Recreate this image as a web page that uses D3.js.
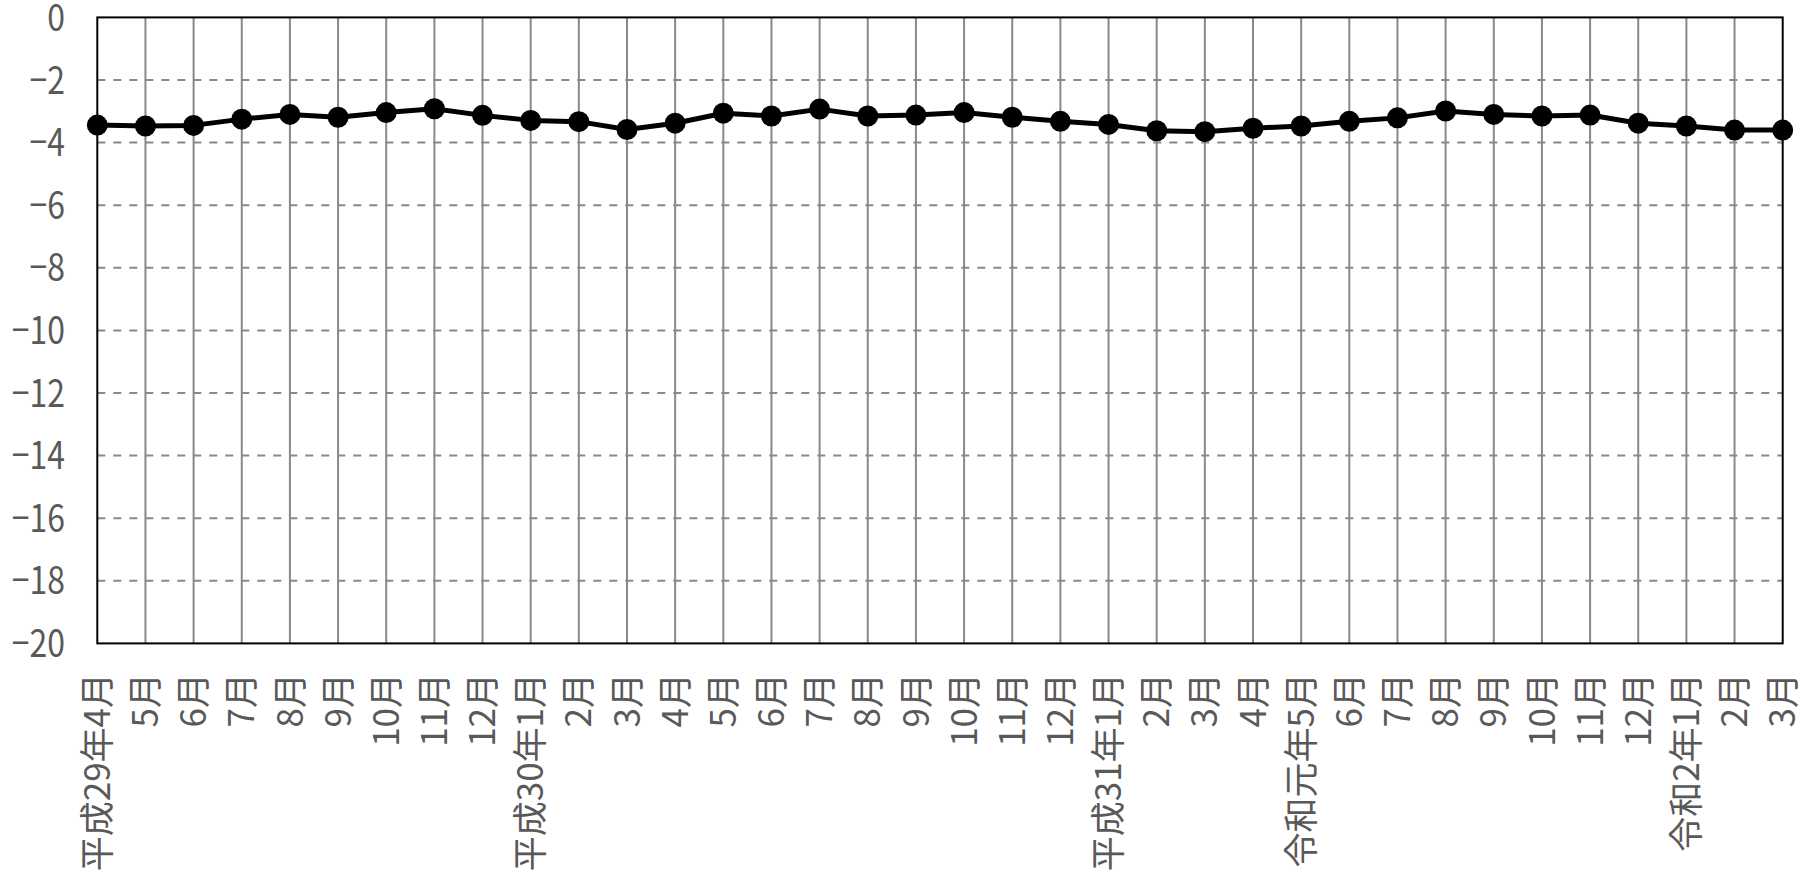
<!DOCTYPE html>
<html>
<head>
<meta charset="utf-8">
<script src="https://cdn.jsdelivr.net/npm/d3@7"></script>
<style>
  body { margin: 0; background: #fff; }
  text { font-family: "Noto Sans CJK JP", "Noto Sans", sans-serif; fill: #595959; }
</style>
</head>
<body>
<div id="chart"></div>
<script>
// month labels along the x axis
var months = [
  "平成29年4月", "5月", "6月", "7月", "8月", "9月", "10月", "11月", "12月",
  "平成30年1月", "2月", "3月", "4月", "5月", "6月", "7月", "8月", "9月", "10月", "11月", "12月",
  "平成31年1月", "2月", "3月", "4月",
  "令和元年5月", "6月", "7月", "8月", "9月", "10月", "11月", "12月",
  "令和2年1月", "2月", "3月"
];

// series values
var values = [
  -3.44, -3.47, -3.45, -3.25, -3.10, -3.19, -3.04, -2.92, -3.13,
  -3.29, -3.33, -3.58, -3.38, -3.06, -3.15, -2.93, -3.15, -3.12, -3.04, -3.19, -3.32,
  -3.42, -3.62, -3.65, -3.54,
  -3.47, -3.32, -3.21, -2.99, -3.10, -3.15, -3.12, -3.38,
  -3.47, -3.60, -3.60
];

var yTicks = [0, -2, -4, -6, -8, -10, -12, -14, -16, -18, -20];

var width = 1815, height = 879;
var margin = {top: 17.4, right: 32.3, bottom: 235.6, left: 97.3};

var svg = d3.select("#chart").append("svg")
    .attr("width", width)
    .attr("height", height);

var x = d3.scalePoint()
    .domain(d3.range(months.length))
    .range([margin.left, width - margin.right]);

var y = d3.scaleLinear()
    .domain([-20, 0])
    .range([height - margin.bottom, margin.top]);

// horizontal dashed gridlines
svg.append("g")
  .selectAll("line")
  .data(yTicks.filter(function(d) { return d !== 0 && d !== -20; }))
  .enter().append("line")
    .attr("x1", margin.left)
    .attr("x2", width - margin.right)
    .attr("y1", function(d) { return y(d); })
    .attr("y2", function(d) { return y(d); })
    .attr("stroke", "#898989")
    .attr("stroke-width", 2)
    .attr("stroke-dasharray", "8,8");

// vertical gridlines at each month
svg.append("g")
  .selectAll("line")
  .data(d3.range(1, months.length - 1))
  .enter().append("line")
    .attr("x1", function(d) { return x(d); })
    .attr("x2", function(d) { return x(d); })
    .attr("y1", margin.top)
    .attr("y2", height - margin.bottom)
    .attr("stroke", "#898989")
    .attr("stroke-width", 2);

// plot frame
svg.append("rect")
    .attr("x", margin.left)
    .attr("y", margin.top)
    .attr("width", width - margin.left - margin.right)
    .attr("height", height - margin.top - margin.bottom)
    .attr("fill", "none")
    .attr("stroke", "#000")
    .attr("stroke-width", 2);

// y tick labels (narrowed a bit, the original font is condensed)
svg.append("g")
  .selectAll("text")
  .data(yTicks)
  .enter().append("text")
    .attr("transform", function(d) { return "translate(65," + y(d) + ") scale(0.84,1)"; })
    .attr("dy", "0.36em")
    .attr("text-anchor", "end")
    .attr("font-size", 38)
    .text(function(d) { return d === 0 ? "0" : "\u2212" + Math.abs(d); });

// x tick labels, rotated
svg.append("g")
  .selectAll("text")
  .data(months)
  .enter().append("text")
    .attr("transform", function(d, i) { return "translate(" + x(i) + ",673) rotate(-90)"; })
    .attr("dy", "0.36em")
    .attr("text-anchor", "end")
    .attr("font-size", 35)
    .text(function(d) { return d; });

// line + markers
var line = d3.line()
    .x(function(d, i) { return x(i); })
    .y(function(d) { return y(d); });

svg.append("path")
    .datum(values)
    .attr("d", line)
    .attr("fill", "none")
    .attr("stroke", "#000")
    .attr("stroke-width", 5)
    .attr("stroke-linejoin", "round");

svg.append("g")
  .selectAll("circle")
  .data(values)
  .enter().append("circle")
    .attr("cx", function(d, i) { return x(i); })
    .attr("cy", function(d) { return y(d); })
    .attr("r", 10.5)
    .attr("fill", "#000");
</script>
</body>
</html>
